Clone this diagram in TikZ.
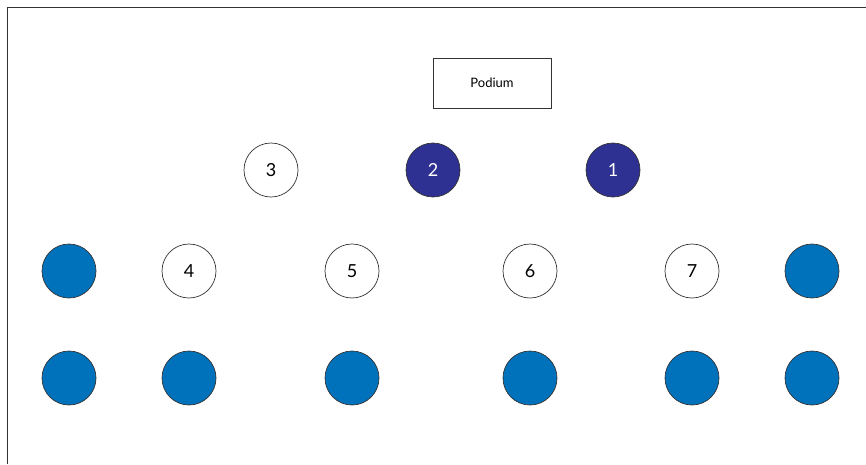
\documentclass[tikz,border=0pt]{standalone}
\usepackage{fontspec}
\setmainfont{Lato}

\begin{document}
\begin{tikzpicture}[x=1pt,y=-1pt,
  seat/.style={circle,draw=black!80,line width=.7pt,minimum size=54pt,inner sep=0pt,font=\fontsize{18}{20}\selectfont},
  free/.style={seat,fill=white},
  taken/.style={seat,fill=navy,text=white},
  extra/.style={seat,fill=seablue}]
\definecolor{navy}{RGB}{46,49,146}
\definecolor{seablue}{RGB}{0,114,188}
\path[use as bounding box] (0,0) rectangle (866,464);
\draw[black!80,line width=1pt] (7.5,464)--(7.5,7.5)--(866,7.5);
\node[draw=black!80,line width=.7pt,minimum width=118pt,minimum height=50pt,font=\fontsize{13}{15}\selectfont] (podium) at (492,83) {Podium};
% front row
\node[free] (s3) at (271,170) {3};
\node[taken] (s2) at (433,170) {2};
\node[taken] (s1) at (613,170) {1};
% middle row
\node[extra] (m1) at (69,271) {};
\node[free] (s4) at (189,271) {4};
\node[free] (s5) at (352,271) {5};
\node[free] (s6) at (530,271) {6};
\node[free] (s7) at (692,271) {7};
\node[extra] (m2) at (812,271) {};
% back row
\foreach \x [count=\i] in {69,189,352,530,692,812}
  \node[extra] (b\i) at (\x,378) {};
\end{tikzpicture}
\end{document}
